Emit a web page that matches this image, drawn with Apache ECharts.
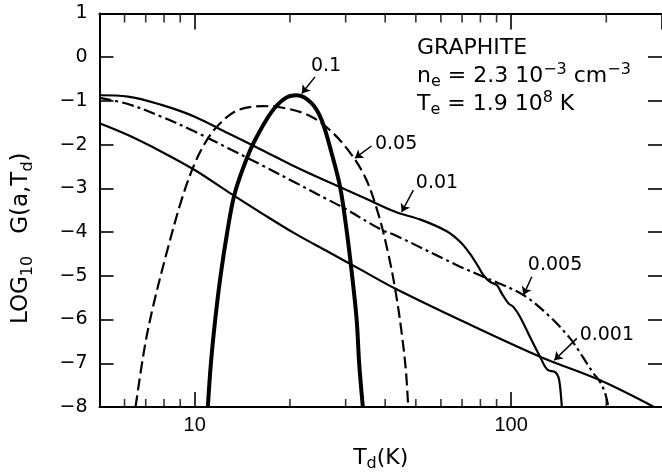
<!DOCTYPE html>
<html>
<head>
<meta charset="utf-8">
<script src="https://cdn.jsdelivr.net/npm/echarts@6/dist/echarts.min.js"></script>
<style>
  html, body { margin: 0; padding: 0; background: #fff; }
  #main { width: 662px; height: 474px; }
</style>
</head>
<body>
<div id="main"></div>
<script>
// log10 G(a,Td) against Td (K), one curve per grain size a
var curveA0_1 = [[11.0,-8.0],[11.25,-7.0],[11.61,-6.0],[12.07,-5.0],[12.67,-4.0],[13.34,-3.15],[14.4,-2.43],[15.5,-1.9],[17.5,-1.25],[19.3,-0.94],[21.0,-0.87],[23.4,-1.05],[25.2,-1.44],[27.1,-2.2],[28.8,-2.96],[30.2,-3.95],[31.3,-4.87],[32.5,-6.0],[33.1,-7.0],[34.0,-8.0]];
var curveA0_05 = [[6.5,-8.0],[6.95,-6.62],[7.38,-5.71],[8.14,-4.49],[9.08,-3.27],[10.0,-2.43],[11.0,-1.86],[12.15,-1.48],[13.7,-1.21],[16.3,-1.12],[18.8,-1.15],[22.8,-1.32],[26.4,-1.63],[30.5,-2.12],[34.5,-2.73],[38.0,-3.57],[40.9,-4.49],[43.25,-5.4],[45.2,-6.36],[46.5,-7.16],[47.3,-8.0]];
var curveA0_01 = [[5,-0.87],[6.15,-0.9],[7.85,-1.09],[10,-1.36],[12.75,-1.74],[16.3,-2.12],[20.7,-2.5],[26.4,-2.85],[33.7,-3.19],[43,-3.535],[52,-3.72],[62.6,-3.98],[69,-4.22],[74.1,-4.49],[78.8,-4.79],[81.7,-4.98],[85.8,-5.14],[90.1,-5.21],[93.4,-5.4],[98.1,-5.63],[101.7,-5.71],[106.8,-5.94],[114.8,-6.4],[123.5,-6.85],[128.1,-7.08],[131.2,-7.16],[137.7,-7.2],[141.1,-7.31],[142.9,-7.54],[144.7,-8.0]];
var curveA0_005 = [[5,-0.93],[6.15,-1.07],[7.85,-1.36],[10,-1.7],[12.75,-2.08],[16.3,-2.47],[20.7,-2.86],[26.4,-3.26],[29.8,-3.46],[39,-3.95],[43,-4.07],[69,-4.79],[81.7,-5.02],[109.4,-5.44],[132.9,-5.94],[153.7,-6.43],[163.3,-6.7],[173.6,-7.0],[182.2,-7.23],[191.3,-7.43],[198.4,-7.69],[203,-8.0]];
var curveA0_001 = [[5,-1.51],[6.15,-1.78],[7.85,-2.16],[10,-2.58],[12.75,-3.08],[16.3,-3.57],[20.7,-4.03],[26.4,-4.45],[33.7,-4.87],[43,-5.29],[69,-6.01],[123.5,-6.85],[191.3,-7.39],[283,-8.0]];

// curve labels and their arrows
var labelNames = ["0.1", "0.05", "0.01", "0.005", "0.001"];
var labelAt = [[26.0,-0.2],[43.3,-1.99],[58.3,-2.88],[137.7,-4.76],[200.8,-6.36]];
var arrowFrom = [[24.0,-0.45],[36.2,-2.03],[49.1,-3.04],[116.3,-5.02],[161.4,-6.43]];
var arrowTo = [[21.8,-0.83],[32.1,-2.31],[45.1,-3.54],[109.4,-5.44],[137.0,-6.93]];

// unlabelled log ticks
var minorTicks = [6, 7, 8, 9, 20, 30, 40, 50, 60, 70, 80, 90, 200];

var font = "Liberation Sans";
var wide = "DejaVu Sans";
var ink = "#000";

var subSup = {
  s: { fontSize: 16, lineHeight: 16, verticalAlign: "bottom", fontFamily: wide, color: ink },
  p: { fontSize: 16, lineHeight: 16, verticalAlign: "top", fontFamily: wide, color: ink }
};

function curve(name, data, width, type) {
  return {
    name: name,
    type: "line",
    data: data,
    symbol: "none",
    smooth: 0.35,
    lineStyle: { color: ink, width: width, type: type },
    z: 3
  };
}

function tickMarks(y, size, offset) {
  return {
    type: "scatter",
    silent: true,
    data: minorTicks.map(function (v) { return [v, y]; }),
    symbol: "rect",
    symbolSize: size,
    symbolOffset: offset,
    itemStyle: { color: ink },
    z: 4
  };
}

function isPow(v) {
  var r = Math.round(v);
  return Math.abs(v - r) < 1e-6 && (r === 10 || r === 100);
}

var myChart = echarts.init(document.getElementById("main"));

myChart.setOption({
  animation: false,
  backgroundColor: "#fff",
  grid: { left: 99.5, right: 0, top: 13.5, bottom: 67, outerBoundsMode: "none" },
  xAxis: [
    {
      type: "log",
      logBase: 10,
      min: 5,
      max: 300,
      position: "bottom",
      axisLine: { show: true, onZero: false, lineStyle: { color: ink, width: 2 } },
      axisTick: { show: true, inside: true, length: 15, lineStyle: { color: ink, width: 1.6 } },
      axisLabel: {
        margin: 8, fontSize: 20, color: ink, fontFamily: font,
        showMinLabel: false, showMaxLabel: false,
        formatter: function (v) { return isPow(v) ? String(Math.round(v)) : ""; }
      },
      splitLine: { show: false },
      minorTick: { show: false },
      name: "T{s|d}(K)",
      nameLocation: "middle",
      nameGap: 37,
      nameTextStyle: { fontSize: 22, lineHeight: 28, color: ink, fontFamily: wide, rich: subSup }
    },
    {
      type: "log",
      logBase: 10,
      min: 5,
      max: 300,
      position: "top",
      axisLine: { show: true, onZero: false, lineStyle: { color: ink, width: 2 } },
      axisTick: { show: true, inside: true, length: 16, lineStyle: { color: ink, width: 1.6 } },
      axisLabel: { show: false },
      splitLine: { show: false }
    }
  ],
  yAxis: [
    {
      type: "value",
      min: -8,
      max: 1,
      interval: 1,
      position: "left",
      axisLine: { show: true, onZero: false, lineStyle: { color: ink, width: 2 } },
      axisTick: { show: true, inside: true, length: 14, lineStyle: { color: ink, width: 1.6 } },
      axisLabel: {
        margin: 12, fontSize: 19, color: ink, fontFamily: wide,
        formatter: function (v) { return v < 0 ? "\u2212" + Math.abs(v) : String(v); }
      },
      splitLine: { show: false },
      name: "LOG{s|10}   G(a,T{s|d})",
      nameLocation: "middle",
      nameGap: 64,
      nameTextStyle: { fontSize: 23, lineHeight: 28, color: ink, fontFamily: wide, padding: [0, 56, 0, 0], rich: subSup }
    },
    {
      type: "value",
      min: -8,
      max: 1,
      interval: 1,
      position: "right",
      axisLine: { show: false },
      axisTick: { show: true, inside: true, length: 14, lineStyle: { color: ink, width: 1.6 } },
      axisLabel: { show: false },
      splitLine: { show: false }
    }
  ],
  graphic: [
    {
      type: "text",
      left: 417,
      top: 34,
      style: {
        text: "GRAPHITE\nn{s|e} = 2.3 10{p|\u22123} cm{p|\u22123}\nT{s|e} = 1.9 10{p|8} K",
        fontSize: 22,
        lineHeight: 28,
        fontFamily: wide,
        fill: ink,
        rich: {
          s: { fontSize: 16, lineHeight: 16, verticalAlign: "bottom", fontFamily: wide, fill: ink },
          p: { fontSize: 16, lineHeight: 16, verticalAlign: "top", fontFamily: wide, fill: ink }
        }
      }
    }
  ],
  series: [
    curve("0.001", curveA0_001, 2.2, "solid"),
    curve("0.005", curveA0_005, 2.2, [12, 4, 3, 4]),
    curve("0.01", curveA0_01, 2.2, "solid"),
    curve("0.05", curveA0_05, 2.2, [12, 5]),
    curve("0.1", curveA0_1, 4, "solid"),
    tickMarks(-8, [1.6, 8], [0, -4]),
    tickMarks(1, [1.6, 9], [0, 4.5]),
    {
      type: "lines",
      coordinateSystem: "cartesian2d",
      silent: true,
      symbol: ["none", "arrow"],
      symbolSize: 8,
      lineStyle: { color: ink, width: 1.5, opacity: 1, curveness: 0 },
      data: arrowFrom.map(function (p, i) { return { coords: [p, arrowTo[i]] }; }),
      z: 5
    },
    {
      type: "scatter",
      silent: true,
      data: labelAt.map(function (p, i) { return { value: p, name: labelNames[i] }; }),
      symbolSize: 1,
      itemStyle: { color: "rgba(0,0,0,0)" },
      label: {
        show: true, position: "inside", formatter: "{b}", fontSize: 19,
        color: ink, fontFamily: wide, textBorderWidth: 0, opacity: 1
      },
      z: 5
    }
  ]
});
</script>
</body>
</html>
